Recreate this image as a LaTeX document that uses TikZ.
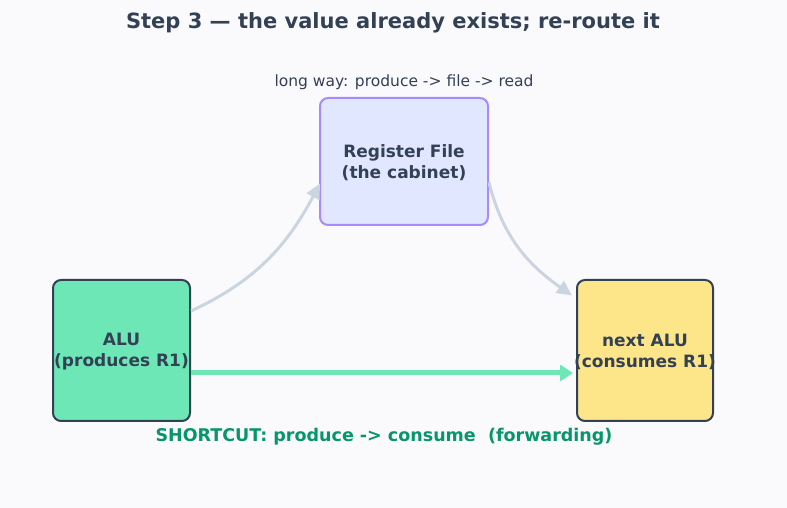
\documentclass[tikz,border=0pt]{standalone}
\usepackage{fontspec}
\setmainfont{DejaVu Sans}
\usetikzlibrary{arrows.meta}
\definecolor{bgc}{HTML}{FAFAFD}
\definecolor{ink}{HTML}{334155}
\definecolor{rffill}{HTML}{E0E7FF}
\definecolor{rfdraw}{HTML}{A78BFA}
\definecolor{alufill}{HTML}{6EE7B7}
\definecolor{nextfill}{HTML}{FDE68A}
\definecolor{grayarrow}{HTML}{CBD5E1}
\definecolor{fwdtext}{HTML}{059669}
\tikzset{
  x=1pt, y=1pt,
  unitbox/.style={rounded corners=8pt, line width=2pt, inner sep=0pt},
  unittext/.style={align=center, inner sep=0pt,
    font=\fontsize{17}{21}\selectfont\bfseries, text=ink},
  longarrow/.style={draw=grayarrow, line width=3pt, -{Triangle[length=15pt,width=14pt]}},
  fwdarrow/.style={draw=alufill, line width=5pt, -{Triangle[length=13pt,width=16pt]}},
}
\begin{document}
\begin{tikzpicture}
\fill[bgc] (0,0) rectangle (787,508);
\useasboundingbox (0,0) rectangle (787,508);
\node[font=\fontsize{21}{24}\selectfont\bfseries, text=ink] (title) at (393,485) {Step 3 — the value already exists; re-route it};
\node[font=\fontsize{15.5}{18}\selectfont, text=ink] (sub) at (404,426) {long way: produce -> file -> read};
\node[unitbox, draw=rfdraw, fill=rffill, minimum width=168pt, minimum height=127pt] (rf) at (404,346.5) {};
\node[unittext] (rft) at ([yshift=-1pt]rf.center) {Register File\\(the cabinet)};
\node[unitbox, draw=ink, fill=alufill, minimum width=137pt, minimum height=141pt] (alu) at (121.5,157.5) {};
\node[unittext] (alut) at ([yshift=-1pt]alu.center) {ALU\\(produces R1)};
\node[unitbox, draw=ink, fill=nextfill, minimum width=136pt, minimum height=141pt] (nalu) at (645,157.5) {};
\node[unittext] (nalut) at ([yshift=-1pt]nalu.center) {next ALU\\(consumes R1)};
\coordinate (a1) at ([yshift=39.5pt]alu.east);
\coordinate (r1) at ([yshift=-22pt,xshift=1pt]rf.west);
\coordinate (r2) at ([yshift=-21pt]rf.east);
\coordinate (n1) at ([yshift=55pt,xshift=-4pt]nalu.west);
\draw[longarrow] (a1) to[out=25, in=-118] (r1);
\draw[longarrow] (r2) to[out=-76, in=145] (n1);
\coordinate (a2) at ([yshift=-22.5pt]alu.east);
\coordinate (n2) at ([yshift=-22.5pt,xshift=-3pt]nalu.west);
\draw[fwdarrow] (a2) -- (n2);
\node[font=\fontsize{17.5}{20}\selectfont\bfseries, text=fwdtext] (sc) at (384,71) {SHORTCUT: produce -> consume\ \ (forwarding)};
\end{tikzpicture}
\end{document}
